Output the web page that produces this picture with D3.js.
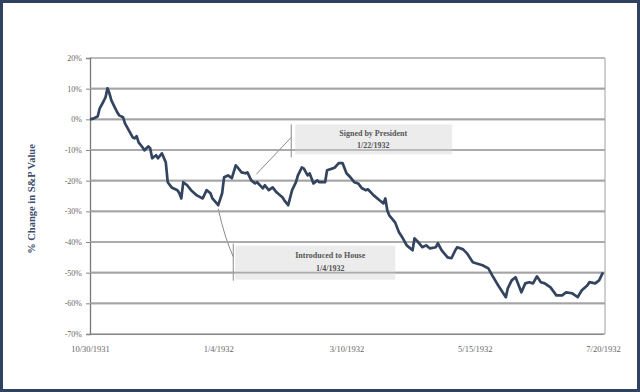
<!DOCTYPE html>
<html><head><meta charset="utf-8">
<script src="https://cdn.jsdelivr.net/npm/d3@7"></script>
<style>
html,body{margin:0;padding:0;background:#fff;}
svg{display:block;}
</style></head>
<body>
<svg id="chart" width="640" height="392"></svg>
<script>
// ---- data ----
const dates = ["1931-10-30","1931-11-01","1931-11-03","1931-11-04","1931-11-06","1931-11-07","1931-11-08","1931-11-09","1931-11-10","1931-11-12","1931-11-13","1931-11-14","1931-11-16","1931-11-17","1931-11-19","1931-11-21","1931-11-22","1931-11-23","1931-11-24","1931-11-26","1931-11-27","1931-11-29","1931-11-30","1931-12-01","1931-12-03","1931-12-04","1931-12-06","1931-12-08","1931-12-09","1931-12-11","1931-12-14","1931-12-15","1931-12-16","1931-12-17","1931-12-19","1931-12-21","1931-12-24","1931-12-27","1931-12-29","1931-12-31","1932-01-01","1932-01-04","1932-01-06","1932-01-07","1932-01-09","1932-01-11","1932-01-13","1932-01-14","1932-01-16","1932-01-18","1932-01-19","1932-01-21","1932-01-23","1932-01-24","1932-01-27","1932-01-28","1932-01-30","1932-02-01","1932-02-03","1932-02-06","1932-02-07","1932-02-09","1932-02-11","1932-02-13","1932-02-14","1932-02-16","1932-02-17","1932-02-19","1932-02-20","1932-02-22","1932-02-24","1932-02-25","1932-02-28","1932-02-29","1932-03-03","1932-03-04","1932-03-06","1932-03-08","1932-03-10","1932-03-12","1932-03-14","1932-03-16","1932-03-18","1932-03-20","1932-03-21","1932-03-24","1932-03-27","1932-03-29","1932-03-30","1932-03-31","1932-04-01","1932-04-04","1932-04-06","1932-04-08","1932-04-10","1932-04-13","1932-04-14","1932-04-16","1932-04-18","1932-04-20","1932-04-22","1932-04-25","1932-04-26","1932-04-28","1932-05-01","1932-05-03","1932-05-05","1932-05-06","1932-05-09","1932-05-11","1932-05-14","1932-05-16","1932-05-19","1932-05-22","1932-05-24","1932-05-27","1932-05-31","1932-06-01","1932-06-03","1932-06-05","1932-06-06","1932-06-08","1932-06-10","1932-06-12","1932-06-14","1932-06-16","1932-06-18","1932-06-20","1932-06-23","1932-06-26","1932-06-29","1932-07-01","1932-07-04","1932-07-07","1932-07-09","1932-07-12","1932-07-13","1932-07-16","1932-07-18","1932-07-20"];
const pctChange = [0,0.3,1.0,3.6,5.9,7.2,10.1,8.5,6.2,3.6,2.3,1.3,0.7,-1.3,-3.6,-5.9,-6.2,-5.5,-7.5,-9.1,-10.1,-8.8,-9.5,-12.7,-11.7,-12.7,-11.1,-14.0,-20.5,-22.2,-23.1,-24.1,-25.8,-20.5,-21.5,-23.1,-24.8,-25.8,-23.1,-24.1,-25.8,-28.0,-24.1,-18.9,-18.3,-19.2,-15.0,-15.7,-17.3,-17.6,-17.3,-19.9,-20.9,-20.5,-22.5,-21.5,-23.1,-22.2,-23.8,-25.4,-26.4,-28.0,-23.1,-20.5,-18.3,-15.7,-16.0,-18.3,-17.6,-20.9,-19.9,-20.5,-20.5,-16.6,-16.0,-15.7,-14.3,-14.3,-17.6,-18.9,-20.5,-20.9,-22.5,-23.1,-22.8,-24.8,-26.4,-27.4,-25.8,-29.7,-31.3,-33.6,-36.8,-38.8,-41.1,-42.7,-38.8,-40.1,-41.7,-41.1,-42.1,-41.7,-40.4,-42.7,-45.0,-45.3,-42.7,-41.7,-42.4,-43.7,-46.6,-47.0,-47.6,-48.6,-50.9,-54.1,-58.0,-55.1,-52.5,-51.5,-53.1,-56.4,-53.5,-53.1,-53.5,-51.2,-53.1,-53.5,-54.8,-57.4,-57.4,-56.4,-56.7,-58.0,-55.8,-54.1,-53.1,-53.5,-52.5,-49.9];
const yTicks = [20,10,0,-10,-20,-30,-40,-50,-60,-70];
const xTickDates = ["1931-10-30","1932-01-04","1932-03-10","1932-05-15","1932-07-20"];
const xTickLabels = ["10/30/1931","1/4/1932","3/10/1932","5/15/1932","7/20/1932"];
const annotationLabels = [["Signed by President","1/22/1932"],["Introduced to House","1/4/1932"]];
const annotationDates = ["1932-01-22","1932-01-04"];
const annotationValues = [-18.6, -28.5];
const yTitle = "% Change in S&P Value";

// ---- drawing ----
const parse = d3.timeParse("%Y-%m-%d");
const series = dates.map((d,i)=>({date:parse(d), v:pctChange[i]}));
const svg = d3.select("#chart");
const W = 640, H = 392;
const mLeft = 90, mRight = 603, mTop = 58, mBottom = 334;

const x = d3.scaleTime().domain([parse(dates[0]), parse(dates[dates.length-1])]).range([mLeft, mRight]);
const y = d3.scaleLinear().domain([-70, 20]).range([mBottom, mTop]);

svg.append("rect").attr("x",0).attr("y",0).attr("width",W).attr("height",H).attr("fill","#fff");

const serif = "'Liberation Serif','DejaVu Serif',serif";

// gridlines
svg.append("g").selectAll("line").data(yTicks).join("line")
  .attr("x1", mLeft).attr("x2", mRight+2)
  .attr("y1", d=>y(d)).attr("y2", d=>y(d))
  .attr("stroke", "#a4a4a4").attr("stroke-width", 1.6);

// right border of plot
svg.append("line").attr("x1", mRight+2).attr("x2", mRight+2).attr("y1", mTop).attr("y2", mBottom)
  .attr("stroke","#b0b0b0").attr("stroke-width",1.2);

// y axis
const yAxis = d3.axisLeft(y).tickValues(yTicks).tickFormat(d=>d+"%").tickSize(4).tickPadding(4);
const gy = svg.append("g").attr("transform", `translate(${mLeft},0)`).call(yAxis);
gy.select(".domain").attr("stroke","#777").attr("stroke-width",1.3);
gy.selectAll(".tick line").attr("stroke","#888");
gy.selectAll("text").attr("font-family", serif).attr("font-size", 8).attr("fill", "#666");

// x axis
const xAxis = d3.axisBottom(x).tickValues(xTickDates.map(parse))
  .tickFormat((d,i)=>xTickLabels[i]).tickSize(0).tickPadding(12);
const gx = svg.append("g").attr("transform", `translate(0,${mBottom})`).call(xAxis);
gx.select(".domain").attr("stroke","#888").attr("stroke-width",1.2);
gx.selectAll("text").attr("font-family", serif).attr("font-size", 8.5).attr("fill", "#666");

// y title
svg.append("text").attr("transform", `translate(35,${(mTop+mBottom)/2+3}) rotate(-90)`)
  .attr("text-anchor","middle").attr("font-family", serif).attr("font-weight","bold")
  .attr("font-size", 10.5).attr("fill", "#3d4d6d").text(yTitle);

// annotations (anchored on the data via scales)
const annG = svg.append("g");
// Signed by President
{
  const px = x(parse(annotationDates[0])), py = y(annotationValues[0]);
  const vx = px + 38, vTop = py - 52, vBot = py - 19;
  annG.append("rect").attr("x", vx+4).attr("y", vTop).attr("width", 157).attr("height", 30).attr("fill","#ececec");
  annG.append("line").attr("x1", px+3).attr("y1", py-2).attr("x2", vx).attr("y2", py-39).attr("stroke","#8a8a8a").attr("stroke-width",1);
  annG.append("line").attr("x1", vx).attr("y1", vTop).attr("x2", vx).attr("y2", vBot).attr("stroke","#8a8a8a").attr("stroke-width",1);
  const t = annG.append("text").attr("font-family", serif).attr("font-weight","bold").attr("font-size", 8).attr("fill","#555").attr("text-anchor","middle");
  t.append("tspan").attr("x", vx+82).attr("y", vTop+12).text(annotationLabels[0][0]);
  t.append("tspan").attr("x", vx+82).attr("y", vTop+24).text(annotationLabels[0][1]);
}
// Introduced to House
{
  const px = x(parse(annotationDates[1])), py = y(annotationValues[1]);
  const vx = px + 15, vTop = py + 37, vBot = py + 74;
  annG.append("rect").attr("x", vx+2).attr("y", vTop+2).attr("width", 160).attr("height", 34).attr("fill","#ececec");
  annG.append("path").attr("d", `M${px},${py+2} Q${px+6},${py+30} ${vx},${py+50}`).attr("fill","none").attr("stroke","#8a8a8a").attr("stroke-width",1);
  annG.append("line").attr("x1", vx).attr("y1", vTop).attr("x2", vx).attr("y2", vBot).attr("stroke","#8a8a8a").attr("stroke-width",1);
  const t = annG.append("text").attr("font-family", serif).attr("font-weight","bold").attr("font-size", 8).attr("fill","#555").attr("text-anchor","middle");
  t.append("tspan").attr("x", vx+97).attr("y", vTop+14).text(annotationLabels[1][0]);
  t.append("tspan").attr("x", vx+97).attr("y", vTop+27).text(annotationLabels[1][1]);
}
// gridlines drawn again over the boxes (as in the reference)
svg.append("g").selectAll("line").data(yTicks.filter(d=>d>-70 && d<20)).join("line")
  .attr("x1", mLeft).attr("x2", mRight+2)
  .attr("y1", d=>y(d)).attr("y2", d=>y(d))
  .attr("stroke", "#a4a4a4").attr("stroke-width", 1.6).attr("opacity",0.9);

// data line
const line = d3.line().x(d=>x(d.date)).y(d=>y(d.v)).curve(d3.curveLinear);
svg.append("path").datum(series).attr("d", line).attr("fill","none")
  .attr("stroke","#33445f").attr("stroke-width",2.7).attr("stroke-linejoin","round");

// outer frame
svg.append("rect").attr("x",1.5).attr("y",1.5).attr("width",W-3).attr("height",H-3)
  .attr("fill","none").attr("stroke","#2f4260").attr("stroke-width",3);
</script>
</body></html>
